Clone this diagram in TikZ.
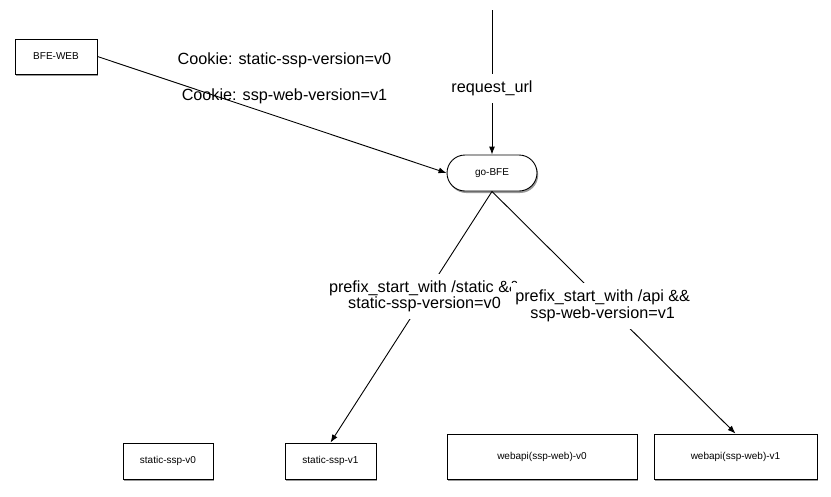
\documentclass[tikz,border=0pt]{standalone}
\usepackage{fontspec}
\setmainfont{Liberation Sans}
\usetikzlibrary{shadows,arrows.meta}
\begin{document}
\begin{tikzpicture}[x=1pt,y=-1pt,
  box/.style={draw, line width=0.9pt, fill=white, inner sep=0pt,
    font=\fontsize{10}{12}\selectfont,
    drop shadow={shadow xshift=1.2pt,shadow yshift=-2pt,fill=black,opacity=0.4}},
  conn/.style={draw, line width=0.9pt, -{Latex[length=8pt,width=6pt]}},
  biglabel/.style={font=\fontsize{16.2}{16.5}\selectfont, align=center, fill=white, inner xsep=4pt, inner ysep=7pt},
  freelabel/.style={font=\fontsize{16.2}{16.5}\selectfont, align=center, inner sep=0pt}
]
\useasboundingbox (0,0) rectangle (831,496);

\node[box, minimum width=82pt, minimum height=35pt] (bfeweb) at (56,56.5) {BFE-WEB};
\node[box, minimum width=90pt, minimum height=36pt, rounded corners=18pt] (gobfe) at (492,173) {go-BFE};
\node[box, minimum width=90pt, minimum height=36pt] (ssv0) at (168,461) {static-ssp-v0};
\node[box, minimum width=91pt, minimum height=36pt] (ssv1) at (330.5,461) {static-ssp-v1};
\node[box, minimum width=190pt, minimum height=45pt] (wv0) at (542,456.5) {webapi(ssp-web)-v0};
\node[box, minimum width=163pt, minimum height=45pt] (wv1) at (735.5,456.5) {webapi(ssp-web)-v1};

\node[freelabel] (ck0) at (284.5,60) {Cookie: static-ssp-version=v0};
\node[freelabel] (ck1) at (284.5,96) {Cookie: ssp-web-version=v1};

\coordinate (top) at (492,10);

\draw[conn] (bfeweb.east) -- (gobfe.west);
\draw[conn] (top) -- node[biglabel, pos=0.545] (rurl) {request\_url} (gobfe.north);
\draw[conn] (gobfe.south) -- node[biglabel, pos=0.418] (lab1) {prefix\_start\_with /static \&\&\\static-ssp-version=v0} (ssv1.north);
\draw[conn] (gobfe.south) -- node[biglabel, pos=0.473, xshift=-4.5pt] (lab2) {prefix\_start\_with /api \&\&\\ssp-web-version=v1} (wv1.north);
\end{tikzpicture}
\end{document}
